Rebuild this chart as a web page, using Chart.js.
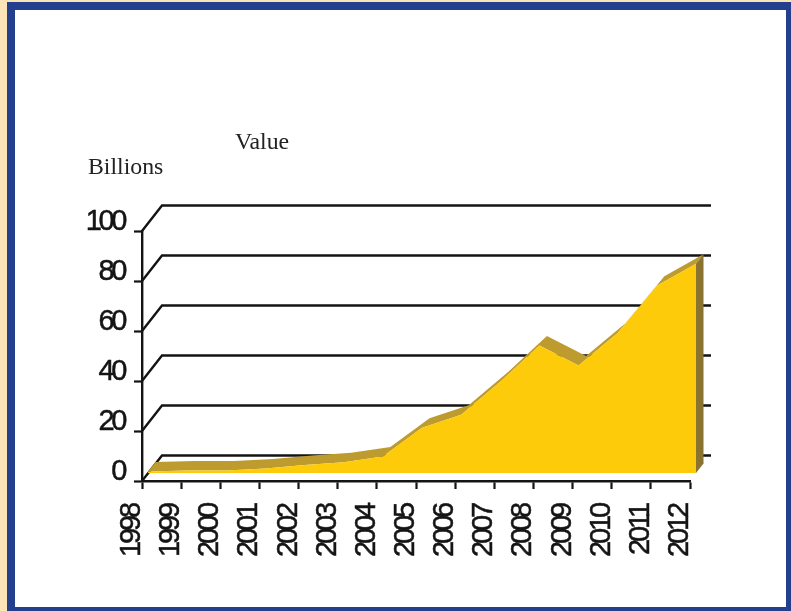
<!DOCTYPE html>
<html>
<head>
<meta charset="utf-8">
<script src="https://cdn.jsdelivr.net/npm/chart.js@4/dist/chart.umd.min.js"></script>
<style>
  html, body { margin: 0; padding: 0; width: 791px; height: 611px; overflow: hidden; background: #fde3b8; }
  #frame { position: absolute; left: 7px; top: 2px; right: 0; bottom: 0; box-sizing: border-box; background: #fff;
           border-style: solid; border-color: #253f8f; border-width: 8px 5px 4px 8px; }
  canvas { position: absolute; left: 0; top: 0; }
</style>
</head>
<body>
<div id="frame"></div>
<canvas id="chart" width="791" height="611"></canvas>
<script>
// Annual totals, in billions
const years = ['1998','1999','2000','2001','2002','2003','2004','2005','2006','2007','2008','2009','2010','2011','2012'];
const values = [0.6, 1, 1, 1.8, 3.2, 4.3, 6.6, 18.1, 23.3, 36.5, 51, 43, 56, 74.9, 83.7];
const yTicks = [0, 20, 40, 60, 80, 100];
const captions = [
  { text: 'Value', x: 235, y: 149 },
  { text: 'Billions', x: 88, y: 174 }
];

const INK = '#141414';
const FACE = '#fdcb09';
const TOP = '#bd9b2f';
const SIDE = '#8a7230';

// Pseudo-3D box: the wall sits behind the axes, the area is a slab inside the box.
const WALL = { dx: 20, dy: -25.5 };
const SLAB_FRONT = { dx: 6, dy: -8 };
const SLAB_DEPTH = { dx: 7.5, dy: -9.5 };

// Axis labels are tightly tracked and sit off their ticks.
function shiftLabels(scale, dx, dy, tracking) {
  const draw = scale.drawLabels;
  scale.drawLabels = function (area) {
    const ctx = this.ctx;
    ctx.save();
    ctx.translate(dx, dy);
    ctx.letterSpacing = tracking;
    draw.call(this, area);
    ctx.restore();
  };
}

const box3d = {
  id: 'box3d',
  beforeDatasetsDraw(chart) {
    const { ctx, scales: { x, y } } = chart;
    ctx.save();
    ctx.strokeStyle = INK;
    ctx.lineWidth = 2.4;
    ctx.lineJoin = 'miter';
    yTicks.forEach(v => {
      const py = y.getPixelForValue(v);
      ctx.beginPath();
      ctx.moveTo(x.left, py);
      ctx.lineTo(x.left + WALL.dx, py + WALL.dy);
      ctx.lineTo(711, py + WALL.dy);
      ctx.stroke();
    });
    ctx.restore();
  },
  beforeDatasetDraw(chart, args) {
    const { ctx } = chart;
    const pts = args.meta.data;
    ctx.save();
    ctx.translate(SLAB_FRONT.dx, SLAB_FRONT.dy);
    // top surface of the slab
    ctx.fillStyle = TOP;
    ctx.beginPath();
    pts.forEach((p, i) => i ? ctx.lineTo(p.x, p.y) : ctx.moveTo(p.x, p.y));
    for (let i = pts.length - 1; i >= 0; i--) {
      ctx.lineTo(pts[i].x + SLAB_DEPTH.dx, pts[i].y + SLAB_DEPTH.dy);
    }
    ctx.closePath();
    ctx.fill();
    // right-hand side of the slab
    const last = pts[pts.length - 1];
    const base = chart.scales.y.getPixelForValue(0);
    ctx.fillStyle = SIDE;
    ctx.beginPath();
    ctx.moveTo(last.x, last.y);
    ctx.lineTo(last.x + SLAB_DEPTH.dx, last.y + SLAB_DEPTH.dy);
    ctx.lineTo(last.x + SLAB_DEPTH.dx, base + SLAB_DEPTH.dy);
    ctx.lineTo(last.x, base);
    ctx.closePath();
    ctx.fill();
  },
  afterDatasetDraw(chart) {
    chart.ctx.restore();
  },
  afterDraw(chart) {
    const { ctx } = chart;
    ctx.save();
    ctx.fillStyle = '#222';
    ctx.font = '23.8px "Liberation Serif"';
    ctx.textAlign = 'left';
    ctx.textBaseline = 'alphabetic';
    captions.forEach(c => ctx.fillText(c.text, c.x, c.y));
    ctx.restore();
  }
};

// The slab's hook has to run before the area fill so that the fill lands on the front plane.
Chart.unregister(Chart.Filler);
Chart.register(box3d);
Chart.register(Chart.Filler);

const tickFont = { family: '"Liberation Sans"', size: 29 };
const tickStroke = { textStrokeWidth: 0.5, textStrokeColor: INK };

new Chart(document.getElementById('chart'), {
  type: 'line',
  data: {
    labels: years,
    datasets: [{
      data: values,
      borderWidth: 0,
      borderColor: FACE,
      backgroundColor: FACE,
      pointRadius: 0,
      tension: 0,
      fill: 'origin',
      clip: false
    }]
  },
  options: {
    responsive: false,
    animation: false,
    devicePixelRatio: 1,
    events: [],
    layout: { autoPadding: false, padding: { left: 0, top: 231, right: 101, bottom: 0 } },
    plugins: { legend: { display: false }, title: { display: false }, tooltip: { enabled: false } },
    scales: {
      x: {
        type: 'category',
        offset: false,
        border: { display: true, color: INK, width: 2.4 },
        grid: { drawOnChartArea: false, drawTicks: true, tickLength: 8, tickColor: INK, tickWidth: 2.2 },
        ticks: { autoSkip: false, minRotation: 90, maxRotation: 90, padding: 16, color: INK, font: tickFont, ...tickStroke },
        afterFit(s) { s.height = 130; if (!s._shifted) { s._shifted = true; shiftLabels(s, -10, 0, '-3.1px'); } }
      },
      y: {
        min: 0,
        max: 100,
        border: { display: true, color: INK, width: 2.4 },
        grid: { drawOnChartArea: false, drawTicks: true, tickLength: 8, tickColor: INK, tickWidth: 2.2 },
        ticks: { stepSize: 20, padding: 10, color: INK, font: tickFont, ...tickStroke },
        afterBuildTicks(s) { s.ticks = yTicks.map(value => ({ value })); },
        afterFit(s) { s.width = 142; if (!s._shifted) { s._shifted = true; shiftLabels(s, 0, -9.5, '-3.4px'); } }
      }
    }
  }
});
</script>
</body>
</html>
